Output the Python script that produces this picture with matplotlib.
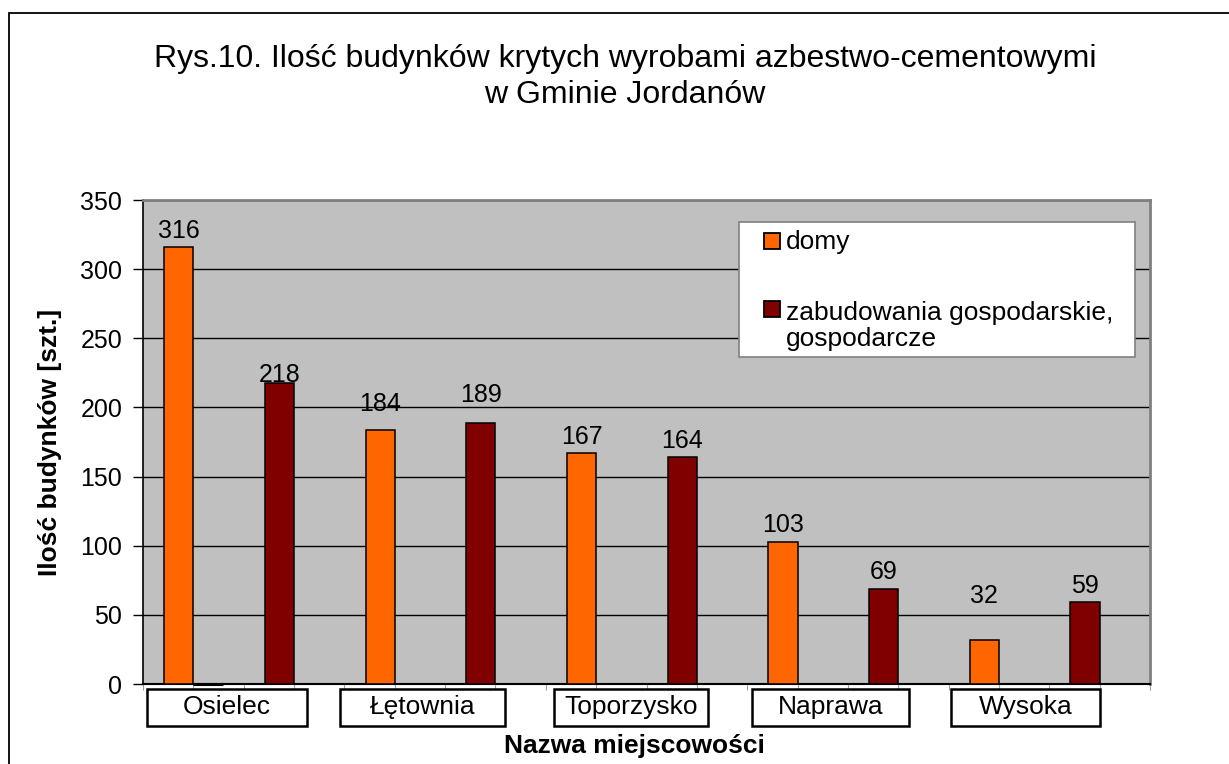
import matplotlib
matplotlib.use("Agg")
import matplotlib.pyplot as plt
from matplotlib.patches import Rectangle
import numpy as np

# ---- data ----
villages = ["Osielec", "Łętownia", "Toporzysko", "Naprawa", "Wysoka"]
domy = [316, 184, 167, 103, 32]
zabudowania = [218, 189, 164, 69, 59]
zabudowania_extra = [0]          # empty second-series bar shown beside the first Osielec bar
series_names = ["domy", "zabudowania gospodarskie,\ngospodarcze"]
yticks = [0, 50, 100, 150, 200, 250, 300, 350]
title = "Rys.10. Ilość budynków krytych wyrobami azbestwo-cementowymi\nw Gminie Jordanów"
xlabel = "Nazwa miejscowości"
ylabel = "Ilość budynków [szt.]"

# ---- layout / style (label nudges in points, as placed in the original) ----
nudge_domy = [0, 6.5, 0, 0, 20]
nudge_zab = [-6, 8.5, 0, 0, 0]

C_DOMY = "#FF6600"
C_ZAB = "#800000"
FONT = "Liberation Sans"
plt.rcParams["font.family"] = [FONT, "DejaVu Sans"]

W, H = 1229, 764
fig = plt.figure(figsize=(W / 100, H / 100), dpi=100)

def fx(px):
    return px / W

def fy(py):
    return 1 - py / H

# outer frame (runs off the right and bottom edges)
fig.patches.append(Rectangle((fx(9), -0.05), 1.2, fy(13) + 0.05, transform=fig.transFigure,
                             fill=False, edgecolor="black", linewidth=1.3, zorder=0))

ax = fig.add_axes([fx(143), fy(684), fx(1150) - fx(143), fy(200) - fy(684)])
ax.set_facecolor("#C0C0C0")

n = len(villages)
slot_d = np.arange(n) * 2          # slots carrying the 'domy' bars
slot_z = np.arange(n) * 2 + 1      # slots carrying the 'zabudowania' bars
bw = 0.29
off = -bw / 2

ax.bar(slot_d + off, domy, width=bw, color=C_DOMY, edgecolor="black", linewidth=1.1, zorder=3)
ax.bar(slot_z + off, zabudowania, width=bw, color=C_ZAB, edgecolor="black", linewidth=1.1, zorder=3)
# zero-valued bar of the second series: drawn as its outline on the baseline
x_extra = slot_d[:len(zabudowania_extra)] + off + bw
ax.hlines(zabudowania_extra, x_extra - bw / 2, x_extra + bw / 2, colors="black",
          linewidth=2.2, zorder=4, clip_on=False)

for xs, vals, nud in ((slot_d, domy, nudge_domy), (slot_z, zabudowania, nudge_zab)):
    for x, v, d in zip(xs, vals, nud):
        ax.annotate(str(v), (x + off, v), xytext=(0, 3 + d), textcoords="offset points",
                    ha="center", va="bottom", fontsize=18, color="black", zorder=5,
                    annotation_clip=False)

ax.set_xlim(-0.5, 2 * n - 0.5)
ax.set_ylim(0, 350)
ax.set_yticks(yticks)
ax.set_yticklabels([str(t) for t in yticks], fontsize=18)
ax.yaxis.grid(True, color="black", linewidth=1.0, zorder=1)
ax.set_axisbelow(True)
ax.tick_params(axis="y", direction="out", length=7, width=1, pad=8, colors="black")
ax.set_xticks(np.arange(-0.5, 2 * n, 0.5))
ax.set_xticklabels([])
ax.tick_params(axis="x", direction="out", length=4, width=0.8, color="#A0A0A0")

for s in ("top", "right"):
    ax.spines[s].set_color("#808080")
    ax.spines[s].set_linewidth(2)
ax.spines["left"].set_color("black")
ax.spines["left"].set_linewidth(1.2)
ax.spines["bottom"].set_color("black")
ax.spines["bottom"].set_linewidth(1.5)

# boxed category labels (each village spans two slots)
box_px = [(147, 307), (340, 505), (554, 708), (752, 909), (951, 1100)]
for name, (x0, x1) in zip(villages, box_px):
    fig.patches.append(Rectangle((fx(x0), fy(726)), fx(x1) - fx(x0), fy(689) - fy(726),
                                 transform=fig.transFigure, facecolor="white",
                                 edgecolor="black", linewidth=1.8))
    fig.text(fx((x0 + x1) / 2), fy(707), name, ha="center", va="center", fontsize=19)

# titles and axis labels
fig.text(fx(625), fy(77), title, ha="center", va="center", fontsize=23, linespacing=1.25)
fig.text(fx(634), fy(746), xlabel, ha="center", va="center", fontsize=19, fontweight="bold")
fig.text(fx(50), fy(442), ylabel, ha="center", va="center", fontsize=19,
         fontweight="bold", rotation=90)

# legend
fig.patches.append(Rectangle((fx(739), fy(357)), fx(1135) - fx(739), fy(222) - fy(357),
                             transform=fig.transFigure, facecolor="white",
                             edgecolor="#808080", linewidth=1.2, zorder=6))
for (ytop, col), lab, ty in zip(((233, C_DOMY), (301, C_ZAB)), series_names, (242, 326)):
    fig.patches.append(Rectangle((fx(764), fy(ytop + 16)), fx(16), 16 / H,
                                 transform=fig.transFigure, facecolor=col,
                                 edgecolor="black", linewidth=1.3, zorder=7))
    fig.text(fx(786), fy(ty), lab, ha="left", va="center", fontsize=19,
             linespacing=1.1, zorder=8)

fig.savefig("out.png", dpi=100, facecolor="white")
